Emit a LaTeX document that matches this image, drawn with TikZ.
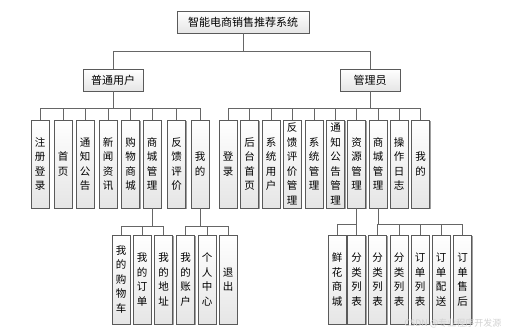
\documentclass[tikz,border=0pt]{standalone}
\usepackage{fontspec}
\setmainfont{Noto Sans CJK SC}
\usetikzlibrary{shadows}
\definecolor{boxline}{HTML}{5A5A5A}
\definecolor{linkgray}{HTML}{666666}

\begin{document}
\begin{tikzpicture}[x=1pt,y=-1pt,
  every node/.style={font=\fontsize{10.5}{14.5}\selectfont},
  box/.style={draw=boxline,line width=0.9pt,top color=white,bottom color=gray!20,
    drop shadow={shadow xshift=1.3pt,shadow yshift=-1.3pt,fill=gray!75,opacity=1}},
  topbox/.style={box,minimum height=22pt,inner sep=0pt,font=\fontsize{11}{13}\selectfont},
  leaf/.style={box,minimum width=18pt,minimum height=88pt,inner sep=0pt,align=center},
  link/.style={draw=linkgray,line width=0.9pt}]
\useasboundingbox (0,0) rectangle (506,333);

% first two levels
\node[topbox,minimum width=132pt] (root) at (243,22) {智能电商销售推荐系统};
\node[topbox,minimum width=60pt] (user) at (113,80) {普通用户};
\node[topbox,minimum width=60pt] (admin) at (370,80) {管理员};

% user functions
\foreach \name/\x/\txt in {u1/40/{注\\册\\登\\录},u2/63/{首\\页},u3/85/{通\\知\\公\\告},
  u4/108/{新\\闻\\资\\讯},u5/130.5/{购\\物\\商\\城},u6/152/{商\\城\\管\\理},
  u7/176.5/{反\\馈\\评\\价},u8/200/{我\\的}}
  \node[leaf] (\name) at (\x,164) {\txt};

% admin functions
\foreach \name/\x/\txt in {a1/228/{登\\录},a2/249.5/{后\\台\\首\\页},a3/271/{系\\统\\用\\户},
  a4/292/{反\\馈\\评\\价\\管\\理},a5/314/{系\\统\\管\\理},a6/335.5/{通\\知\\公\\告\\管\\理},
  a7/356.5/{资\\源\\管\\理},a8/378/{商\\城\\管\\理},a9/399/{操\\作\\日\\志},a10/420.5/{我\\的}}
  \node[leaf] (\name) at (\x,164) {\txt};

% third level, user side
\foreach \name/\x/\txt in {s1/121/{我\\的\\购\\物\\车},s2/142/{我\\的\\订\\单},s3/163.5/{我\\的\\地\\址},
  m1/185.5/{我\\的\\账\\户},m2/207/{个\\人\\中\\心},m3/228/{退\\出}}
  \node[leaf,minimum height=89pt] (\name) at (\x,279.5) {\txt};

% third level, admin side
\foreach \name/\x/\txt in {r1/337/{鲜\\花\\商\\城},r2/356.5/{分\\类\\列\\表},
  c1/377.5/{分\\类\\列\\表},c2/399/{分\\类\\列\\表},c3/420/{订\\单\\列\\表},
  c4/441/{订\\单\\配\\送},c5/462.5/{订\\单\\售\\后}}
  \node[leaf,minimum height=89pt] (\name) at (\x,279.5) {\txt};

% connectors
\foreach \c in {user,admin}
  \draw[link] (root.south) -- ++(0,18) -| (\c.north);
\foreach \c in {u1,u2,u3,u4,u5,u6,u7,u8}
  \draw[link] (user.south) -- ++(0,17) -| (\c.north);
\foreach \c in {a1,a2,a3,a4,a5,a6,a7,a8,a9,a10}
  \draw[link] (admin.south) -- ++(0,17) -| (\c.north);
\foreach \c in {s1,s2,s3}
  \draw[link] (u6.south) -- ++(0,17.5) -| (\c.north);
\foreach \c in {m1,m2,m3}
  \draw[link] (u8.south) -- ++(0,17.5) -| (\c.north);
\foreach \c in {r1,r2}
  \draw[link] (a7.south) -- ++(0,16) -| (\c.north);
\foreach \c in {c1,c2,c3,c4,c5}
  \draw[link] (a8.south) -- ++(0,16) -| (\c.north);

% watermark
\node[anchor=east,text=gray!35,font=\fontsize{9}{9}\selectfont] (mark) at (505,323) {CSDN @专业程序开发源};
\end{tikzpicture}
\end{document}
